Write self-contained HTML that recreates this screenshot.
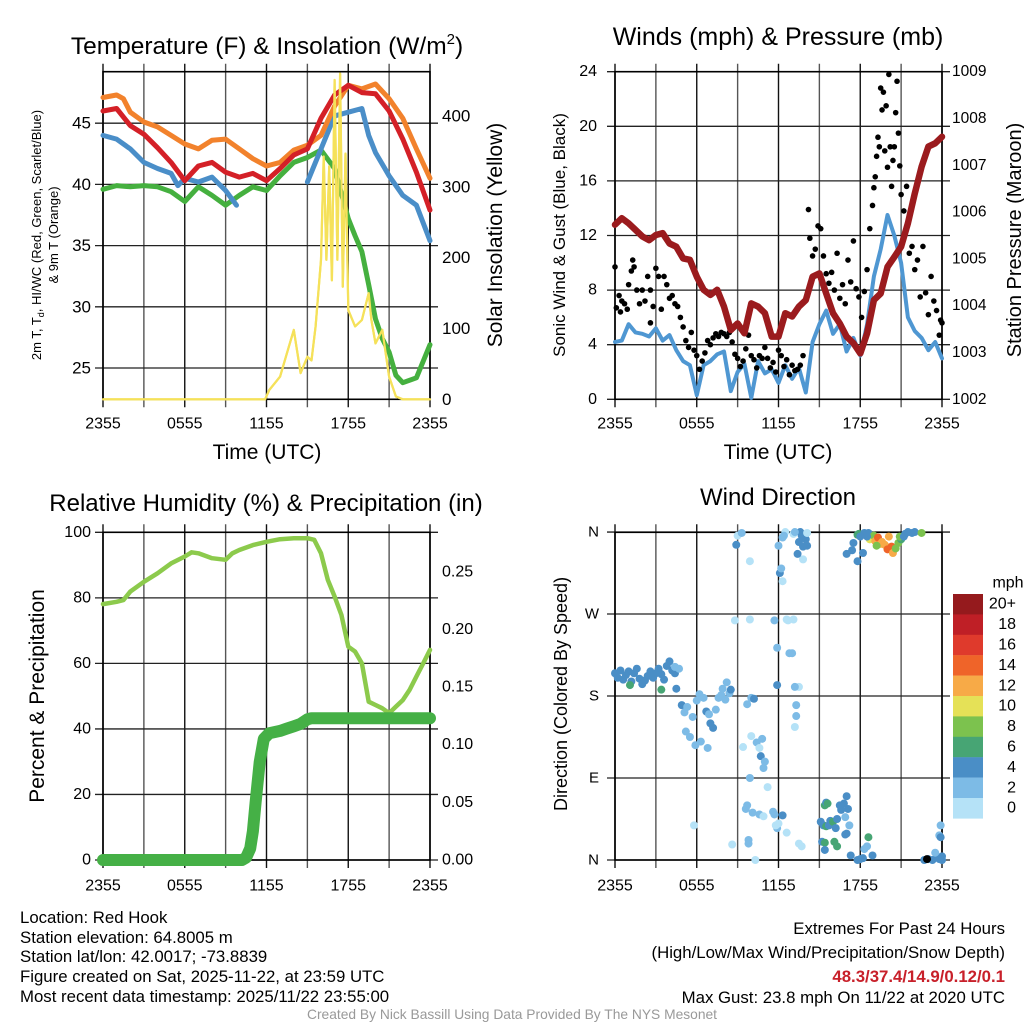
<!DOCTYPE html>
<html><head><meta charset="utf-8"><style>
html,body{margin:0;padding:0;background:#fff;}
svg{display:block;font-family:"Liberation Sans",sans-serif;}
</style></head><body>
<svg id="root" width="1024" height="1024" viewBox="0 0 1024 1024" xmlns="http://www.w3.org/2000/svg">
<rect width="1024" height="1024" fill="#fff"/>
<text x="267" y="54" font-size="24.5" text-anchor="middle">Temperature (F) &amp; Insolation (W/m<tspan dy="-10" font-size="15">2</tspan><tspan dy="10">)</tspan></text>
<text x="778" y="45" font-size="25" text-anchor="middle">Winds (mph) &amp; Pressure (mb)</text>
<text x="266" y="511" font-size="24" text-anchor="middle">Relative Humidity (%) &amp; Precipitation (in)</text>
<text x="778" y="505" font-size="24" text-anchor="middle">Wind Direction</text>

<text transform="translate(41,235) rotate(-90)" font-size="13" text-anchor="middle">2m T, T<tspan font-size="9" dy="3">d</tspan><tspan dy="-3">, HI/WC (Red, Green, Scarlet/Blue)</tspan></text>
<text transform="translate(58,235) rotate(-90)" font-size="13" text-anchor="middle">&amp; 9m T (Orange)</text>
<text transform="translate(502,235) rotate(-90)" font-size="21" text-anchor="middle">Solar Insolation (Yellow)</text>
<text transform="translate(565,235) rotate(-90)" font-size="17" text-anchor="middle">Sonic Wind &amp; Gust (Blue, Black)</text>
<text transform="translate(1021,240) rotate(-90)" font-size="20" text-anchor="middle">Station Pressure (Maroon)</text>
<text transform="translate(44,696) rotate(-90)" font-size="21" text-anchor="middle">Percent &amp; Precipitation</text>
<text transform="translate(567,694) rotate(-90)" font-size="18" text-anchor="middle">Direction (Colored By Speed)</text>
<text x="267" y="459" font-size="21" text-anchor="middle">Time (UTC)</text>
<text x="778" y="459" font-size="21" text-anchor="middle">Time (UTC)</text>

<g font-size="16.8">
<text x="20" y="923">Location: Red Hook</text>
<text x="20" y="943">Station elevation: 64.8005 m</text>
<text x="20" y="962">Station lat/lon: 42.0017; -73.8839</text>
<text x="20" y="982">Figure created on Sat, 2025-11-22, at 23:59 UTC</text>
<text x="20" y="1002">Most recent data timestamp: 2025/11/22 23:55:00</text>
</g>
<g font-size="16.8" text-anchor="end">
<text x="1005" y="934">Extremes For Past 24 Hours</text>
<text x="1005" y="958">(High/Low/Max Wind/Precipitation/Snow Depth)</text>
<text x="1005" y="982" fill="#c8202a" font-weight="bold">48.3/37.4/14.9/0.12/0.1</text>
<text x="1005" y="1003">Max Gust: 23.8 mph On 11/22 at 2020 UTC</text>
</g>
<text x="512" y="1019" font-size="13.8" fill="#999" text-anchor="middle">Created By Nick Bassill Using Data Provided By The NYS Mesonet</text>
</svg>
<script>
// ---------- data ----------
const timeTickLabels = ["2355","0555","1155","1755","2355"];
const tempTickLabels = [25,30,35,40,45];
const insolTickLabels = [0,100,200,300,400];
const windTickLabels = [0,4,8,12,16,20,24];
const pressTickLabels = [1002,1003,1004,1005,1006,1007,1008,1009];
const rhTickLabels = [0,20,40,60,80,100];
const precipTickLabels = [0,0.05,0.10,0.15,0.20,0.25];
const dirTickLabels = ["N","E","S","W","N"];
const speedBins = ["0","2","4","6","8","10","12","14","16","18","20+"];
const speedColors = ["#b5e2f7","#7dbbe6","#4a8ec6","#47a574","#7cc24e","#e5e157","#f7aa47","#ef6429","#df3a2c","#bf1f26","#951a1d"];

const orangeHours = [0,1,1.5,2,3,4,5,6,7,8,9,10,11,12,13,14,15,16,17,18,19,20,21,22,23,24];
const orangeTemps = [47.1,47.3,47.0,45.9,45.1,44.7,44.0,43.3,42.9,43.6,43.7,42.9,42.1,41.5,41.8,42.8,43.2,44.0,46.4,48.1,47.8,48.2,47.0,45.4,42.9,40.5];
const redHours = [0,1,2,3,4,5,6,7,8,9,10,11,12,13,14,15,16,17,18,19,20,21,22,23,24];
const redTemps = [46.0,46.2,44.8,44.1,43.0,41.8,40.3,41.5,41.8,41.0,40.6,40.9,40.3,41.3,42.4,42.9,45.4,47.3,48.1,47.5,47.4,46.0,43.7,41.0,37.9];
const blueHours = [0,1,2,3,4,5,5.5,6,7,8,9,9.8,14,15,16,17,18,19,19.5,20,21,22,23,24];
const blueTemps = [44.0,43.7,42.9,41.8,41.3,40.9,39.9,40.5,40.2,40.6,39.5,38.3,null,40.2,42.9,45.6,45.9,46.2,44.0,42.6,40.7,39.1,38.3,35.4];
const greenHours = [0,1,2,3,4,5,6,7,8,9,10,11,12,13,14,15,16,17,18,18.5,19,19.5,20,20.5,21,21.5,22,23,24];
const greenTemps = [39.6,39.9,39.8,39.9,39.8,39.4,38.6,39.8,39.1,38.3,39.1,39.8,39.5,40.7,41.8,42.2,42.8,41.3,37.2,35.8,34.5,31.8,29.0,27.4,26.3,24.4,23.8,24.2,26.9];
const insolHours = [0,11.9,12.2,13,13.5,14,14.5,15,15.3,15.6,16,16.2,16.4,16.6,16.8,17,17.2,17.4,17.6,17.8,18,18.5,19,19.5,19.7,20,20.5,21,21.5,22,24];
const insolValues = [0,0,13,32,65,98,37,60,55,103,197,343,197,329,168,451,197,460,159,347,126,103,112,150,112,79,98,32,4,0,0];

const pressHours = [0,0.5,1,2,2.5,3,3.5,4,4.5,5,5.5,6,6.5,7,7.5,8,8.5,9,9.5,10,10.5,11,11.5,12,12.5,13,13.5,14,14.5,15,15.5,16,16.5,17,17.5,18,18.5,19,19.5,20,20.5,21,21.5,22,22.5,23,23.5,24];
const pressValues = [1005.73,1005.87,1005.76,1005.48,1005.4,1005.51,1005.55,1005.33,1005.26,1005.01,1004.98,1004.62,1004.34,1004.23,1004.34,1003.98,1003.48,1003.62,1003.41,1004.05,1003.98,1003.84,1003.34,1003.34,1003.84,1003.77,1003.98,1004.12,1004.62,1004.69,1004.26,1003.84,1003.62,1003.34,1003.2,1002.98,1003.41,1004.12,1004.26,1004.83,1005.04,1005.26,1005.76,1006.4,1006.97,1007.4,1007.47,1007.61];
const windHours = [0,0.5,1,1.5,2,2.5,3,3.5,4,4.5,5,5.5,6,6.5,7,7.5,8,8.5,9,9.5,10,10.5,11,11.5,12,12.5,13,13.5,14,14.5,15,15.5,16,16.5,17,17.5,18,18.5,19,19.5,20,20.5,21,21.5,22,22.5,23,23.5,24];
const windSpeeds = [4.2,4.3,5.5,4.9,4.8,4.6,5.2,4.3,4.7,3.6,2.8,2.5,0.3,2.5,2.8,3.3,3.5,0.6,2,2.6,0.1,2.8,1.9,2.2,1.2,2.5,1.5,2.3,0.5,4.2,5.5,6.5,4.8,5.5,3.5,4.5,3.2,5.5,9,11,13.5,12,10,6,5,4.5,3.6,4.2,3];
const gustHours = [0,0.1,0.3,0.4,0.5,0.7,0.9,1.0,1.2,1.3,1.4,1.6,1.8,2.0,2.2,2.4,2.6,2.8,2.6,3.0,3.2,3.4,3.6,3.8,4.0,4.2,4.4,4.6,4.8,5.0,5.2,5.4,5.6,5.8,6.0,6.2,6.4,6.6,6.8,7.0,7.2,7.4,7.6,7.8,8.0,8.2,8.4,8.6,8.8,9.0,9.2,9.4,9.6,9.8,10.0,10.2,10.4,10.6,10.8,11.0,11.2,11.4,11.6,11.8,12.0,12.2,12.4,12.6,12.8,13.0,13.2,13.4,13.6,13.8,14.2,14.3,14.5,14.7,14.9,15.1,15.3,15.5,15.7,15.9,16.1,16.3,16.5,16.7,16.9,17.1,17.3,17.5,17.7,17.9,18.1,18.3,18.5,18.7,18.9,19.0,19.1,19.2,19.3,19.4,19.5,19.6,19.7,19.8,19.9,20.0,20.1,20.2,20.3,20.4,20.5,20.6,20.7,20.8,20.9,21.0,21.2,21.4,21.6,21.8,22.0,22.2,22.4,22.6,22.8,23.0,23.2,23.4,23.6,23.8,24.0,23.9];
const gustSpeeds = [9.7,6.7,7.6,6.4,7.2,7.0,6.6,8.4,9.4,10.2,9.7,8.0,7.0,8.0,7.2,9.0,8.0,6.8,5.6,9.6,9.0,6.6,9.0,8.4,7.4,7.6,7.0,6.8,6.0,5.3,4.3,3.8,4.9,3.6,3.2,2.2,2.8,3.4,4.3,4.0,4.5,4.8,4.6,4.9,4.8,4.6,4.9,4.2,3.3,3.0,2.4,2.8,3.7,4.7,3.2,2.9,2.3,3.2,3.0,3.8,3.0,2.3,2.7,2.0,3.6,3.2,2.4,2.9,1.8,2.5,2.1,2.2,2.5,3.2,13.9,11.8,10.5,11.0,12.7,12.5,10.5,9.2,8.5,9.3,8.0,10.7,7.4,8.4,7.0,10.2,8.6,11.6,8.1,7.5,6.0,7.9,9.5,12.5,14.2,15.5,16.3,17.8,19.2,18.5,22.8,21.2,22.5,18.2,21.5,17.0,23.8,18.5,15.6,17.5,18.5,21.0,23.3,19.5,17.1,15.0,13.8,15.6,10.7,11.2,9.5,10.2,7.5,11.2,7.8,6.2,9.0,7.2,6.5,4.7,5.6,5.8];

const rhHours = [0,1,1.5,2,3,4,5,6,6.5,7,8,9,9.5,10,11,12,13,14,15,15.5,16,16.5,17,17.5,18,18.5,19,19.5,20,20.5,21,21.5,22,22.5,23,23.5,24];
const rhValues = [78.1,78.8,79.3,81.9,84.9,87.5,90.5,92.6,93.9,93.6,92.1,91.6,93.6,94.6,96.1,97.1,97.9,98.2,98.2,97.7,93.6,85.5,80.4,74.8,65.1,63.6,60.0,48.3,47.3,46.3,44.8,46.8,48.8,51.9,56.0,60.0,64.1];
const precipHours = [0,10.2,10.5,10.8,11,11.2,11.5,11.8,12.2,13,13.5,14,14.5,15,15.3,24];
const precipValues = [0,0,0.002,0.01,0.025,0.05,0.085,0.105,0.11,0.112,0.114,0.116,0.118,0.122,0.123,0.123];

const dirHours = [0,0.2,0.4,0.6,0.8,1.0,1.2,1.4,1.6,1.8,2.0,2.2,2.4,2.6,2.8,3.0,3.2,3.4,3.6,3.8,4.0,4.2,4.4,4.5,1.1,3.4,4.4,4.7,
4.9,5.1,5.3,5.2,5.5,5.7,6.0,6.2,6.5,6.7,6.9,7.0,7.2,7.4,7.6,7.8,7.9,6.8,6.3,5.9,8.2,8.4,8.5,8.1,
9.4,9.7,10.0,10.2,10.0,10.4,10.7,10.9,11.0,10.8,10.6,9.9,11.2,9.6,9.7,10.1,10.6,10.9,9.8,9.8,10.3,8.6,5.8,8.8,9.9,9.0,8.9,9.9,9.3,11.9,11.9,11.7,12.6,13.1,12.7,12.8,13.0,13.5,13.2,13.3,13.3,13.2,13.8,12.0,12.1,12.2,12.3,12.3,12.5,12.4,13.1,13.5,13.7,14.0,13.8,14.1,13.4,13.6,14.1,13.2,13.5,13.7,12.6,11.9,11.7,11.6,11.8,12.0,12.3,
15.2,15.3,15.1,15.5,15.7,15.8,16.0,15.4,15.5,15.6,16.2,16.3,16.6,16.5,16.8,17.0,17.1,16.9,17.2,17.0,16.9,16.1,16.3,15.4,15.4,17.3,17.8,18.2,18.3,18.5,18.6,18.9,18.0,
17.5,17.4,17.8,17.9,18.3,18.0,18.6,18.7,19.0,19.1,19.3,19.5,19.6,19.8,20.0,20.1,20.3,20.4,20.6,20.8,21.0,20.9,21.2,21.3,21.5,21.8,22.0,22.5,19.2,18.5,17.8,17.0,18.2,
22.7,23.0,23.3,23.6,23.8,24.0,23.5,23.9,23.8,23.9,24.0,22.9];
const dirDegrees = [205,200,208,198,203,207,196,205,210,199,193,197,202,207,200,205,210,204,198,213,218,208,205,188,192,187,212,210,
170,162,168,141,135,157,175,182,178,163,160,150,145,165,178,181,188,123,130,126,195,183,187,176,
124,171,178,177,136,129,114,101,108,133,123,90,80,56,60,52,50,48,22,18,0,17,38,263,264,356,346,328,359,192,233,263,264,264,263,227,227,190,190,170,158,146,330,345,315,320,306,354,360,356,358,349,356,352,344,345,336,360,359,360,18,15,30,35,50,53,38,40,49,
20,38,42,37,38,43,42,60,63,62,35,45,55,60,62,70,56,47,38,29,28,20,15,19,11,5,0,2,12,15,25,5,1,
348,340,357,358,359,355,359,352,356,350,354,347,349,346,341,355,344,337,342,348,352,355,355,358,360,359,360,359,345,355,328,336,337,
0,1,0,3,1,4,8,38,27,25,0,1];
const dirSpeeds = [4,4,4,4,4,4,4,4,4,4,4,4,4,4,4,4,4,4,4,4,4,4,4,4,6,6,2,2,
4,2,2,2,2,2,2,2,2,4,2,4,4,2,2,2,2,2,2,2,2,2,4,2,
1,2,2,4,0,2,4,2,2,2,0,2,0,2,2,2,2,0,2,2,0,0,0,0,0,0,4,0,2,4,2,2,1,0,0,2,2,0,2,2,2,0,0,2,4,2,0,2,0,2,0,4,4,4,4,4,4,4,0,2,0,0,0,2,2,2,1,0,
4,4,4,4,6,4,4,6,6,4,6,4,4,4,4,4,4,4,2,2,4,4,6,6,6,4,4,4,4,2,2,6,4,
4,4,4,6,6,4,4,4,10,8,12,14,12,12,12,14,12,14,12,8,8,6,8,4,4,4,4,4,8,8,4,4,4,
4,4,4,4,4,4,4,2,2,2,4,4];

// ---------- helpers ----------
const NS = "http://www.w3.org/2000/svg";
const root = document.getElementById('root');
function mk(tag, attrs, parent){ const e=document.createElementNS(NS,tag); for(const k in attrs) e.setAttribute(k,attrs[k]); (parent||root).appendChild(e); return e; }
const P1={x0:103,x1:430,y0:71.7,y1:399.3};
const P2={x0:615,x1:942,y0:71.7,y1:399.3};
const P3={x0:103,x1:430,y0:532.3,y1:860};
const P4={x0:615,x1:942,y0:532.3,y1:860};
const xOf=(p,h)=>p.x0+h/24*(p.x1-p.x0);
const tempY=v=>368-(v-25)*12.24;
const insY=v=>399.3-v*0.708;
const windY=v=>399.3-v*13.65;
const pressY=v=>399.3-(v-1002)*46.8;
const rhY=v=>860-v*3.277;
const prY=v=>860-v*1153;
const dirY=v=>860-v*0.911;

function frame(p, hy, name){
  const g=mk('g',{});
  
  
  for(let h=0;h<=24;h+=3){
    const l=mk('line',{x1:xOf(p,h),x2:xOf(p,h),y1:p.y0-8,y2:p.y1+8,stroke:(h%6==0?'#111':'#555'),'stroke-width':1.4},g);
    
    
  }
  hy.forEach(y=>{
    const l=mk('line',{x1:p.x0-8,x2:p.x1+8,y1:y,y2:y,stroke:'#222','stroke-width':1.3},g);
    
    
  });
  const r=mk('rect',{x:p.x0,y:p.y0,width:p.x1-p.x0,height:p.y1-p.y0,fill:'none',stroke:'#000','stroke-width':1.6},g);
  
  
}
function label(x,y,txt,anchor,size,name){
  const t=mk('text',{x:x,y:y,'font-size':size||15,'text-anchor':anchor||'middle','dominant-baseline':'central'});
  t.textContent=txt;
  
  
  return t;
}
function line(p,hours,vals,yf,color,w,name){
  let d='',pen=false;
  hours.forEach((h,i)=>{ const v=vals[i]; if(v===null){pen=false;return;} d+=(pen?'L':'M')+xOf(p,h).toFixed(1)+','+yf(v).toFixed(1); pen=true; });
  const e=mk('path',{d:d,fill:'none',stroke:color,'stroke-width':w,'stroke-linejoin':'round','stroke-linecap':'round'});
  
  
}
function xticks(p,y){
  timeTickLabels.forEach((s,i)=>label(xOf(p,i*6),y,s,'middle',16,'x-tick-label'));
}

// ---------- panel 1 ----------
frame(P1, tempTickLabels.map(tempY), 'temperature');
tempTickLabels.forEach(v=>label(P1.x0-12,tempY(v),String(v),'end',17,'temp-tick-label'));
insolTickLabels.forEach(v=>label(P1.x1+12,insY(v),String(v),'start',17,'insolation-tick-label'));
xticks(P1,424);
line(P1,insolHours,insolValues,insY,'#f5e15a',2.2,'insolation-line');
line(P1,greenHours,greenTemps,tempY,'#45b03f',5,'dewpoint-line');
line(P1,blueHours,blueTemps,tempY,'#4a8ec8',5,'windchill-line');
line(P1,orangeHours,orangeTemps,tempY,'#f2822c',5,'9m-temperature-line');
line(P1,redHours,redTemps,tempY,'#d42027',5,'2m-temperature-line');
line(P1,insolHours,insolValues,insY,'#f5e15a',2.2,'insolation-line-top');

// ---------- panel 2 ----------
frame(P2, windTickLabels.map(windY), 'winds');
windTickLabels.forEach(v=>label(P2.x0-18,windY(v),String(v),'end',16,'wind-tick-label'));
pressTickLabels.forEach(v=>label(P2.x1+10,pressY(v),String(v),'start',15.5,'pressure-tick-label'));
xticks(P2,424);
line(P2,windHours,windSpeeds,windY,'#4f97d2',4,'sonic-wind-line');
gustHours.forEach((h,i)=>{
  const c=mk('circle',{cx:xOf(P2,h),cy:windY(gustSpeeds[i]),r:2.8,fill:'#000'});
  
  
});
line(P2,pressHours,pressValues,pressY,'#9b1b1e',6.5,'pressure-line');

// ---------- panel 3 ----------
frame(P3, rhTickLabels.map(rhY), 'humidity');
rhTickLabels.forEach(v=>label(P3.x0-12,rhY(v),String(v),'end',16,'rh-tick-label'));
precipTickLabels.forEach(v=>label(P3.x1+12,prY(v),v.toFixed(2),'start',16,'precip-tick-label'));
xticks(P3,886);
line(P3,rhHours,rhValues,rhY,'#8cca4c',4.5,'relative-humidity-line');
line(P3,precipHours,precipValues,prY,'#45b046',12,'precipitation-line');

// ---------- panel 4 ----------
const dirGridY=[0,90,180,270,360].map(dirY);
frame(P4, dirGridY, 'wind-direction');
dirTickLabels.forEach((s,i)=>label(P4.x0-16,dirY(i*90),s,'end',15,'direction-tick-label'));
xticks(P4,886);
dirHours.forEach((h,i)=>{
  const s=dirSpeeds[i]; const bin=Math.min(10,Math.floor(s/2));
  const c=mk('circle',{cx:xOf(P4,h),cy:dirY(dirDegrees[i]),r:4,fill:speedColors[bin]});
  
  
});
// colorbar
label(1008,583,'mph','middle',16,'colorbar-title');
speedBins.slice().reverse().forEach((s,i)=>{
  const y=594+i*20.4;
  const r=mk('rect',{x:953,y:y,width:30,height:20.6,fill:speedColors[10-i]});
  
  
  label(1016,y+10.2,s,'end',16,'colorbar-label');
});
</script>
</body></html>
